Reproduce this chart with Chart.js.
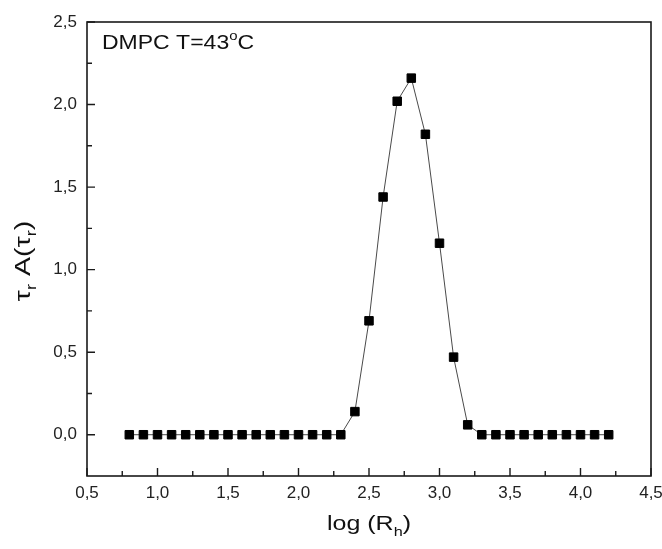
<!DOCTYPE html>
<html>
<head>
<meta charset="utf-8">
<script src="https://cdn.jsdelivr.net/npm/chart.js@4.4.0/dist/chart.umd.min.js"></script>
<style>
    body { margin: 0; background: #fff; }
    #wrap { width: 662px; height: 549px; }
</style>
</head>
<body>
<div id="wrap"><canvas id="sizeChart" width="662" height="549"></canvas></div>
<script>
// data
const logRh = [0.8, 0.9, 1.0, 1.1, 1.2, 1.3, 1.4, 1.5, 1.6, 1.7, 1.8, 1.9, 2.0, 2.1, 2.2, 2.3,
    2.4, 2.5, 2.6, 2.7, 2.8, 2.9, 3.0, 3.1, 3.2,
    3.3, 3.4, 3.5, 3.6, 3.7, 3.8, 3.9, 4.0, 4.1, 4.2];
const amplitude = [0, 0, 0, 0, 0, 0, 0, 0, 0, 0, 0, 0, 0, 0, 0, 0,
    0.14, 0.69, 1.44, 2.02, 2.16, 1.82, 1.16, 0.47, 0.06,
    0, 0, 0, 0, 0, 0, 0, 0, 0, 0];

const xTicks = [0.5, 1.0, 1.5, 2.0, 2.5, 3.0, 3.5, 4.0, 4.5];
const xTickLabels = ['0,5', '1,0', '1,5', '2,0', '2,5', '3,0', '3,5', '4,0', '4,5'];
const yTicks = [0, 0.5, 1.0, 1.5, 2.0, 2.5];
const yTickLabels = ['0,0', '0,5', '1,0', '1,5', '2,0', '2,5'];

const FONT = '"Liberation Sans", Arial, sans-serif';

// draws text made of pieces (normal / sub / sup)
function drawParts(ctx, parts, size, x, y, angle, stretch, align) {
    ctx.save();
    ctx.translate(x, y);
    ctx.rotate(angle);
    ctx.scale(stretch, 1);
    ctx.fillStyle = '#111';
    ctx.textBaseline = 'alphabetic';
    ctx.textAlign = 'left';
    let total = 0;
    const widths = parts.map(p => {
        ctx.font = ((p.sub || p.sup) ? Math.round(size * 0.65) : size) + 'px ' + FONT;
        const w = ctx.measureText(p.t).width;
        total += w;
        return w;
    });
    let cx = align === 'center' ? -total / 2 : 0;
    parts.forEach((p, i) => {
        ctx.font = ((p.sub || p.sup) ? Math.round(size * 0.65) : size) + 'px ' + FONT;
        let dy = 0;
        if (p.sub) dy = size * 0.28;
        if (p.sup) dy = -size * 0.45;
        ctx.fillText(p.t, cx, dy);
        cx += widths[i];
    });
    ctx.restore();
}

const frameAndTicks = {
    id: 'frameAndTicks',
    afterDraw(chart) {
        const ctx = chart.ctx;
        const area = chart.chartArea;
        const xs = chart.scales.x;
        const ys = chart.scales.y;

        ctx.save();
        ctx.strokeStyle = '#1a1a1a';
        ctx.lineWidth = 1.6;
        ctx.strokeRect(area.left, area.top, area.right - area.left, area.bottom - area.top);

        ctx.lineWidth = 1.4;
        ctx.beginPath();
        xTicks.forEach((v, i) => {
            const px = xs.getPixelForValue(v);
            ctx.moveTo(px, area.bottom);
            ctx.lineTo(px, area.bottom - 8);
            if (i < xTicks.length - 1) {
                const mx = xs.getPixelForValue((v + xTicks[i + 1]) / 2);
                ctx.moveTo(mx, area.bottom);
                ctx.lineTo(mx, area.bottom - 5);
            }
        });
        yTicks.forEach((v, i) => {
            const py = ys.getPixelForValue(v);
            ctx.moveTo(area.left, py);
            ctx.lineTo(area.left + 8, py);
            if (i < yTicks.length - 1) {
                const my = ys.getPixelForValue((v + yTicks[i + 1]) / 2);
                ctx.moveTo(area.left, my);
                ctx.lineTo(area.left + 5, my);
            }
        });
        ctx.stroke();
        ctx.restore();

        // axis titles and label
        drawParts(ctx, [{ t: 'log (R' }, { t: 'h', sub: true }, { t: ')' }],
            20, (area.left + area.right) / 2, 530, 0, 1.25, 'center');
        drawParts(ctx, [{ t: 'τ' }, { t: 'r', sub: true }, { t: ' A(' }, { t: 'τ' }, { t: 'r', sub: true }, { t: ')' }],
            22, 30, 261, -Math.PI / 2, 1.3, 'center');
        drawParts(ctx, [{ t: 'DMPC T=43' }, { t: 'o', sup: true }, { t: 'C' }],
            20, area.left + 15, 49, 0, 1.15, 'left');
    }
};

const ctx = document.getElementById('sizeChart').getContext('2d');
const sizeChart = new Chart(ctx, {
    type: 'line',
    data: {
        datasets: [{
            data: logRh.map((v, i) => ({ x: v, y: amplitude[i] })),
            borderColor: '#4a4a4a',
            borderWidth: 1,
            tension: 0,
            pointStyle: 'rect',
            pointRadius: 6,
            pointBackgroundColor: '#000',
            pointBorderColor: '#000',
            pointBorderWidth: 1
        }]
    },
    options: {
        responsive: false,
        animation: false,
        layout: { padding: { top: 22, right: 11, left: 0, bottom: 0 } },
        plugins: {
            legend: { display: false },
            tooltip: { enabled: false }
        },
        scales: {
            x: {
                type: 'linear',
                min: 0.5,
                max: 4.5,
                afterBuildTicks: s => { s.ticks = xTicks.map(v => ({ value: v })); },
                afterFit: s => { s.height = 73; s.paddingLeft = 0; s.paddingRight = 0; },
                grid: { display: false, drawTicks: false },
                border: { display: false },
                ticks: {
                    padding: 7,
                    color: '#222',
                    maxRotation: 0,
                    autoSkip: false,
                    font: { family: FONT, size: 17 },
                    callback: (v, i) => xTickLabels[i]
                }
            },
            y: {
                type: 'linear',
                min: -0.25,
                max: 2.5,
                afterBuildTicks: s => { s.ticks = yTicks.map(v => ({ value: v })); },
                afterFit: s => { s.width = 87; s.paddingTop = 0; s.paddingBottom = 0; },
                grid: { display: false, drawTicks: false },
                border: { display: false },
                ticks: {
                    padding: 10,
                    color: '#222',
                    autoSkip: false,
                    font: { family: FONT, size: 17 },
                    callback: (v, i) => yTickLabels[i]
                }
            }
        }
    },
    plugins: [frameAndTicks]
});
</script>
</body>
</html>
